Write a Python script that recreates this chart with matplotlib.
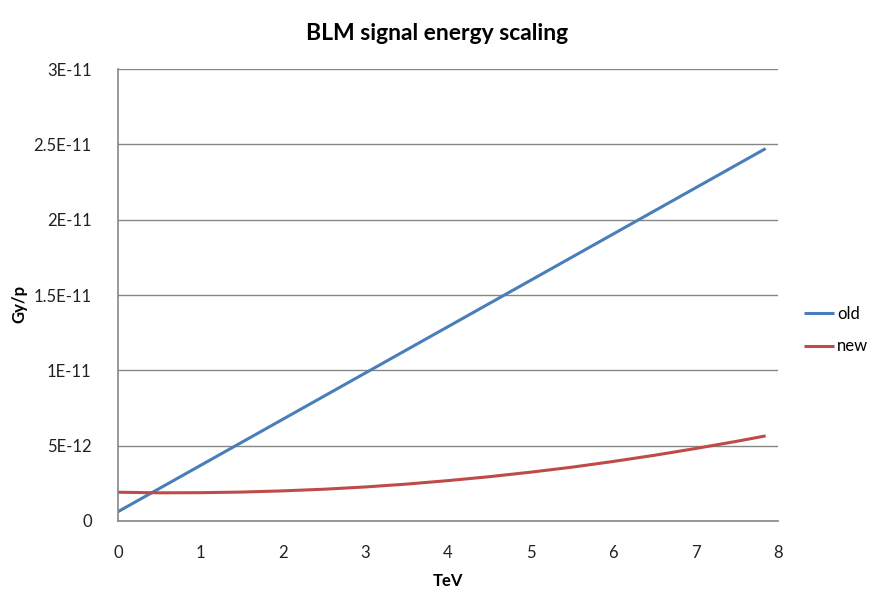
import matplotlib
matplotlib.use('Agg')
import matplotlib.pyplot as plt
from matplotlib.ticker import FixedLocator, FixedFormatter

# energies in TeV and signal in Gy/p
tev_old = [0, 1, 2, 3, 4, 5, 6, 7, 7.85]
gy_old = [0.62e-12, 3.69e-12, 6.76e-12, 9.83e-12, 12.9e-12, 15.97e-12, 19.04e-12, 22.11e-12, 24.72e-12]

tev_new = [0, 0.5, 1, 1.5, 2, 2.5, 3, 3.5, 4, 4.5, 5, 5.5, 6, 6.5, 7, 7.5, 7.85]
gy_new = [1.91e-12, 1.87e-12, 1.88e-12, 1.92e-12, 2.00e-12, 2.11e-12, 2.26e-12, 2.45e-12,
          2.68e-12, 2.94e-12, 3.24e-12, 3.57e-12, 3.95e-12, 4.36e-12, 4.81e-12, 5.29e-12, 5.65e-12]

y_ticks = [0, 5e-12, 1e-11, 1.5e-11, 2e-11, 2.5e-11, 3e-11]
y_labels = ['0', '5E-12', '1E-11', '1.5E-11', '2E-11', '2.5E-11', '3E-11']
x_ticks = [0, 1, 2, 3, 4, 5, 6, 7, 8]

plt.rcParams['font.family'] = ['Lato', 'DejaVu Sans']

fig = plt.figure(figsize=(8.73, 6.08), dpi=100)
ax = fig.add_axes([0.1352, 0.1431, 0.7560, 0.7434])

grid_col = '#868686'
ax.plot(tev_old, gy_old, color='#4A7EBB', lw=2.2, label='old', solid_capstyle='butt')
ax.plot(tev_new, gy_new, color='#BE4B48', lw=2.2, label='new', solid_capstyle='butt')

ax.set_xlim(0, 8)
ax.set_ylim(0, 3e-11)
ax.yaxis.set_major_locator(FixedLocator(y_ticks))
ax.yaxis.set_major_formatter(FixedFormatter(y_labels))
ax.set_xticks(x_ticks)
ax.set_xticklabels([str(t) for t in x_ticks])
ax.grid(axis='y', color=grid_col, lw=1)
ax.set_axisbelow(True)
ax.tick_params(length=0, labelsize=12, colors='#222222')
ax.tick_params(axis='x', pad=17)
ax.tick_params(axis='y', pad=19)

for side in ['top', 'right']:
    ax.spines[side].set_visible(False)
for side in ['left', 'bottom']:
    ax.spines[side].set_color(grid_col)
    ax.spines[side].set_linewidth(1.2)

ax.set_xlabel('TeV', fontsize=12, fontweight='bold', labelpad=9)
fig.text(0.022, 0.5, 'Gy/p', rotation=90, ha='center', va='center',
         fontsize=12, fontweight='bold')
fig.text(0.5005, 0.945, 'BLM signal energy scaling', ha='center', va='center',
         fontsize=16.5, fontweight='bold')

ax.legend(loc='center left', bbox_to_anchor=(0.921, 0.457), bbox_transform=fig.transFigure,
          frameon=False, fontsize=12, handlelength=1.8, handletextpad=0.2, labelspacing=1.0,
          borderpad=0, borderaxespad=0)

fig.savefig('out.png', dpi=100)
